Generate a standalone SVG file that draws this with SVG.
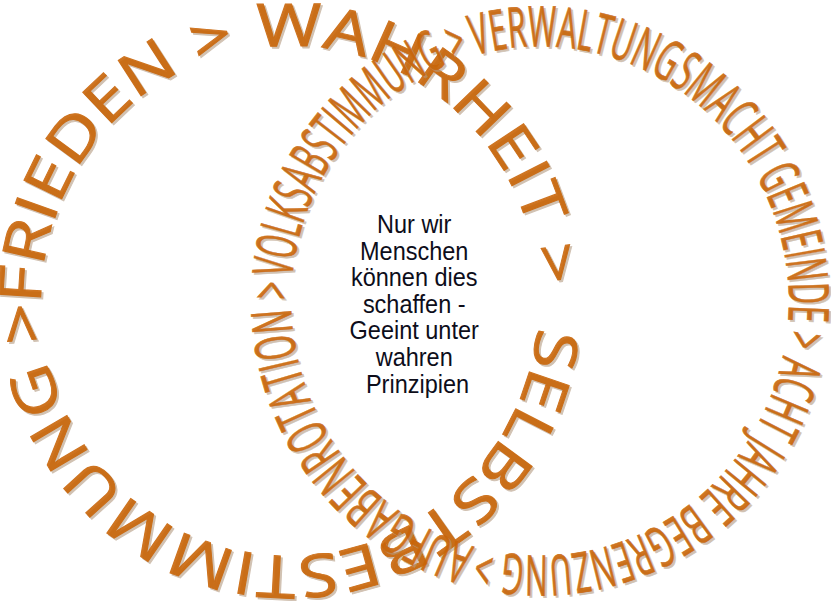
<svg xmlns="http://www.w3.org/2000/svg" xmlns:xlink="http://www.w3.org/1999/xlink" width="831" height="601" viewBox="0 0 831 601">
  <style>
    .ring-big { font-family: "Open Sans", "DejaVu Sans", sans-serif; font-size: 59px; }
    .ring-small { font-family: "Open Sans", "DejaVu Sans", sans-serif; font-size: 56px; }
    .ink { fill: #c96508; stroke: #c96508; opacity: 0.9; }
    .shadow { fill: #b49a80; stroke: #b49a80; opacity: 0.6; }
    .big-w { stroke-width: 1; }
    .small-w { stroke-width: 0.7; }
    .center { font-family: "Liberation Sans", Arial, sans-serif; font-size: 23.5px; fill: #0d0d1a; text-anchor: middle; }
  </style>
  <defs>
    <path id="pathBig" d="M 41.04 305.47 A 249 256 0 0 1 538.96 296.53 A 249 256 0 0 1 41.04 305.47 Z"/>
    <path id="pathSmall" d="M 291.61 283.14 A 249 256 0 0 1 788.39 318.86 A 249 256 0 0 1 291.61 283.14 Z"/>
    <text id="tBig" class="ring-big">
      <textPath xlink:href="#pathBig" href="#pathBig" startOffset="1.8" textLength="344.6" lengthAdjust="spacingAndGlyphs">FRIEDEN &gt;</textPath>
      <textPath xlink:href="#pathBig" href="#pathBig" startOffset="366.2" textLength="414.3" lengthAdjust="spacingAndGlyphs">WAHRHEIT &gt;</textPath>
      <textPath xlink:href="#pathBig" href="#pathBig" startOffset="821.5" textLength="764" lengthAdjust="spacingAndGlyphs">SELBSTBESTIMMUNG &gt;</textPath>
    </text>
    <text id="tSmall" class="ring-small">
      <textPath xlink:href="#pathSmall" href="#pathSmall" startOffset="5.7" textLength="300" lengthAdjust="spacingAndGlyphs">VOLKSABSTIMMUNG &gt;</textPath>
      <textPath xlink:href="#pathSmall" href="#pathSmall" startOffset="311.1" textLength="323" lengthAdjust="spacingAndGlyphs">VERWALTUNGSMACHT</textPath>
      <textPath xlink:href="#pathSmall" href="#pathSmall" startOffset="641" textLength="177" lengthAdjust="spacingAndGlyphs">GEMEINDE &gt;</textPath>
      <textPath xlink:href="#pathSmall" href="#pathSmall" startOffset="827.2" textLength="402" lengthAdjust="spacingAndGlyphs">ACHT JAHRE BEGRENZUNG &gt;</textPath>
      <textPath xlink:href="#pathSmall" href="#pathSmall" startOffset="1234" textLength="348" lengthAdjust="spacingAndGlyphs">AUFGABENROTATION &gt;</textPath>
    </text>
  </defs>
  <g id="ring-big">
    <use xlink:href="#tBig" href="#tBig" class="shadow big-w" transform="translate(2,2)"/>
    <use xlink:href="#tBig" href="#tBig" class="ink big-w"/>
  </g>
  <g id="ring-small">
    <use xlink:href="#tSmall" href="#tSmall" class="shadow small-w" transform="translate(2,2)"/>
    <use xlink:href="#tSmall" href="#tSmall" class="ink small-w"/>
  </g>
  <g id="center-text">
    <text class="center" transform="scale(1,1.08)">
      <tspan x="417.5" y="215.7">Nur wir</tspan>
      <tspan x="417.5" y="240.4">Menschen</tspan>
      <tspan x="417.5" y="265.0">können dies</tspan>
      <tspan x="417.5" y="289.6">schaffen -</tspan>
      <tspan x="417.5" y="314.2">Geeint unter</tspan>
      <tspan x="417.5" y="338.9">wahren</tspan>
      <tspan x="417.5" y="363.5">Prinzipien</tspan>
    </text>
  </g>
</svg>
